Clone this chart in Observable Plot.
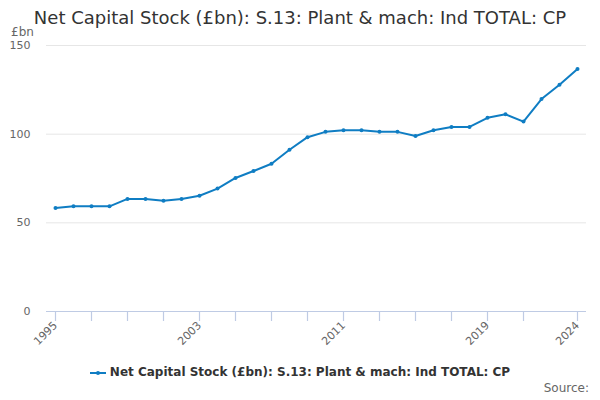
<!DOCTYPE html>
<html>
<head>
<meta charset="utf-8">
<script src="https://cdn.jsdelivr.net/npm/d3@7"></script>
<script src="https://cdn.jsdelivr.net/npm/@observablehq/plot@0.6"></script>
<style>
  html, body { margin: 0; padding: 0; background: #fff; }
  #wrap { position: relative; width: 600px; height: 400px; font-family: "DejaVu Sans", sans-serif; overflow: hidden; }
  #title { position: absolute; left: 0; top: 7px; width: 600px; text-align: center; font-size: 18px; color: #333; white-space: nowrap; }
  #unit { position: absolute; left: 11px; top: 26px; font-size: 12px; line-height: 12px; color: #666; }
  #legend { position: absolute; left: 0; top: 365px; width: 600px; text-align: center; font-size: 12px; font-weight: bold; color: #333; white-space: nowrap; }
  #legend svg { vertical-align: middle; margin-right: 4px; }
  #source { position: absolute; right: 11px; top: 381px; font-size: 12px; color: #666; }
  #chart { position: absolute; left: 0; top: 0; }
</style>
</head>
<body>
<div id="wrap">
  <div id="chart"></div>
  <div id="title"></div>
  <div id="unit"></div>
  <div id="legend"></div>
  <div id="source"></div>
</div>
<script>
const titleText = "Net Capital Stock (£bn): S.13: Plant & mach: Ind TOTAL: CP";
const seriesName = "Net Capital Stock (£bn): S.13: Plant & mach: Ind TOTAL: CP";
const unitLabel = "£bn";
const sourceText = "Source:";

const years = d3.range(1995, 2025);
const values = [58.4, 59.3, 59.3, 59.3, 63.5, 63.5, 62.5, 63.5, 65.3, 69.3,
                75.3, 79.2, 83.3, 91.2, 98.3, 101.3, 102.2, 102.2, 101.3, 101.3,
                99.0, 102.2, 104.1, 104.1, 109.2, 111.2, 107.1, 119.8, 127.9, 136.7];
const yTicks = [0, 50, 100, 150];
const xTickMarks = [1995, 1997, 1999, 2001, 2003, 2005, 2007, 2009, 2011, 2013, 2015, 2017, 2019, 2021, 2024];
const xTickLabels = [1995, 2003, 2011, 2019, 2024];

const data = years.map((y, i) => ({year: y, value: values[i]}));
const color = "#0f7dc3";
const tickColor = "#bfcbe4";

const W = 600, H = 400, mTop = 45, mBottom = 89, mLeft = 46, mRight = 14;
const yMax = 150;

const plot = Plot.plot({
  width: W,
  height: H,
  marginTop: mTop,
  marginBottom: mBottom,
  marginLeft: mLeft,
  marginRight: mRight,
  style: {fontFamily: "DejaVu Sans, sans-serif", fontSize: "11px", color: "#666", background: "transparent"},
  x: {domain: [1994.5, 2024.5], axis: null},
  y: {domain: [0, yMax], axis: null},
  marks: [
    Plot.gridY(yTicks.filter(d => d > 0), {stroke: "#e6e6e6", strokeOpacity: 1, strokeWidth: 1}),
    Plot.axisY(yTicks, {tickSize: 0, tickPadding: 16, fill: "#666", fontSize: 11, label: null}),
    Plot.ruleY([0], {stroke: tickColor, strokeWidth: 1}),
    Plot.axisX(xTickMarks, {tickSize: 10, tickPadding: 2, stroke: tickColor, strokeOpacity: 1, strokeWidth: 1.2,
      fill: "#666", fontSize: 11, tickRotate: -45, label: null,
      tickFormat: d => xTickLabels.includes(d) ? String(d) : ""}),
    Plot.line(data, {x: "year", y: "value", stroke: color, strokeWidth: 2}),
    Plot.dot(data, {x: "year", y: "value", fill: color, r: 2})
  ]
});
document.getElementById("chart").appendChild(plot);

document.getElementById("title").textContent = titleText;
document.getElementById("unit").textContent = unitLabel;
document.getElementById("source").textContent = sourceText;
const legend = document.getElementById("legend");
legend.innerHTML = '<svg width="16" height="10"><line x1="0" y1="5" x2="16" y2="5" stroke="' + color + '" stroke-width="2"/><circle cx="8" cy="5" r="2" fill="' + color + '"/></svg>';
legend.appendChild(document.createTextNode(seriesName));
</script>
</body>
</html>
